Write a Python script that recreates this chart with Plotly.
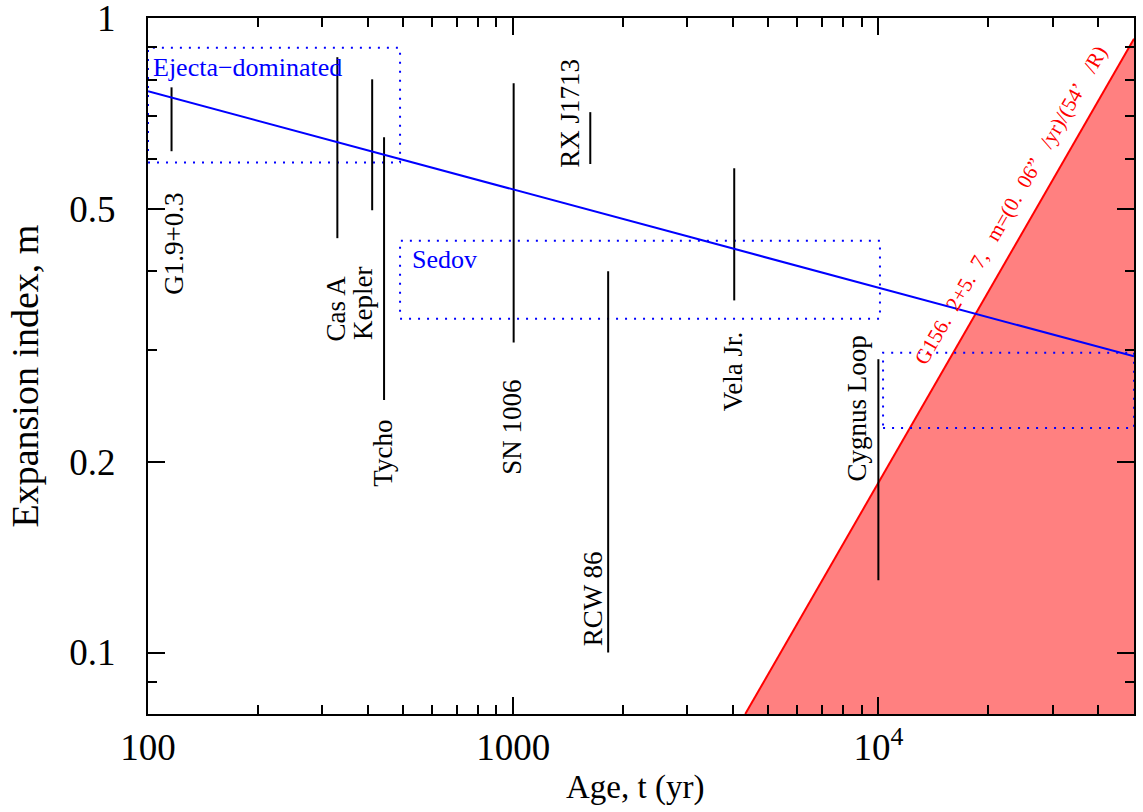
import math
import plotly.graph_objects as go

# ---------------- data ----------------
remnants = ["G1.9+0.3", "Cas A", "Kepler", "Tycho", "SN 1006",
            "RX J1713", "RCW 86", "Vela Jr.", "Cygnus Loop"]
ages_yr = [116, 330, 411, 443, 1003, 1626, 1820, 4030, 10000]
m_low = [0.617, 0.45, 0.498, 0.25, 0.308, 0.589, 0.10, 0.359, 0.13]
m_high = [0.778, 0.868, 0.801, 0.649, 0.79, 0.711, 0.399, 0.58, 0.29]

# general trend m(t) (two end points of the straight line in log-log)
trend_t = [100, 50119]
trend_m = [0.767, 0.293]

# G156.2+5.7 constraint: m = (0.06"/yr) t / (54')
rate_arcsec_per_yr = 0.06
radius_arcmin = 54.0
t_cross = radius_arcmin * 60.0 / rate_arcsec_per_yr   # m = t / t_cross

# phase boxes: name, t_min, t_max, m_min, m_max
phase_names = ["Ejecta\u2212dominated", "Sedov", "Snow\u2212plough"]
phase_t_min = [100, 490, 10300]
phase_t_max = [490, 10100, 50119]
phase_m_min = [0.592, 0.336, 0.226]
phase_m_max = [0.898, 0.446, 0.297]

# axes
x_range_log = [2.0, 4.7]
y_min = 0.08
x_tickvals = [100, 1000, 10000]
x_ticktext = ["100", "1000", "10<sup>4</sup>"]
x_minor = [200, 300, 400, 500, 600, 700, 800, 900,
           2000, 3000, 4000, 5000, 6000, 7000, 8000, 9000,
           20000, 30000, 40000]
y_tickvals = [0.1, 0.2, 0.5, 1]
y_ticktext = ["0.1", "0.2", "0.5", "1"]
y_minor = [0.09, 0.3, 0.4, 0.6, 0.7, 0.8, 0.9]

FONT = "Liberation Serif"
BLUE = "#0000ff"

fig = go.Figure()

# red forbidden region
t_max = 10 ** x_range_log[1]
t_start = y_min * t_cross
fig.add_trace(go.Scatter(
    x=[t_start, t_max, t_max, t_start],
    y=[y_min, t_max / t_cross, y_min, y_min],
    mode="lines", fill="toself", fillcolor="#ff8080",
    line=dict(width=0), hoverinfo="skip", showlegend=False))
fig.add_trace(go.Scatter(
    x=[t_start, t_max], y=[t_start / t_cross, t_max / t_cross],
    mode="lines", line=dict(color="#ff0000", width=2),
    hoverinfo="skip", showlegend=False))

# phase boxes (dotted)
for i, name in enumerate(phase_names):
    x0, x1 = phase_t_min[i], phase_t_max[i]
    y0, y1 = phase_m_min[i], phase_m_max[i]
    fig.add_trace(go.Scatter(
        x=[x0, x1, x1, x0, x0], y=[y0, y0, y1, y1, y0],
        mode="lines", line=dict(color=BLUE, width=2, dash="2px,7px"),
        hoverinfo="skip", showlegend=False, cliponaxis=False))

# remnant ranges
for i, name in enumerate(remnants):
    fig.add_trace(go.Scatter(
        x=[ages_yr[i], ages_yr[i]], y=[m_low[i], m_high[i]],
        mode="lines", line=dict(color="black", width=2),
        name=name, showlegend=False))

# trend line
fig.add_trace(go.Scatter(
    x=trend_t, y=trend_m, mode="lines",
    line=dict(color=BLUE, width=2), showlegend=False, hoverinfo="skip"))

annotations = []

# remnant labels (rotated); placement: (end, yanchor, xshift, yshift)
label_place = {
    "G1.9+0.3": ("low", "top", 3, -40),
    "Cas A": ("low", "top", -1, -35),
    "Kepler": ("low", "top", -9, -55),
    "Tycho": ("low", "top", -1, -18),
    "SN 1006": ("low", "top", -2, -35),
    "RX J1713": ("low", "bottom", -21, -6),
    "RCW 86": ("low", "bottom", -15, 4),
    "Vela Jr.": ("low", "top", -1, -30),
    "Cygnus Loop": ("high", "top", -21, 26),
}
for i, name in enumerate(remnants):
    end, ya, xs, ys = label_place[name]
    yv = m_low[i] if end == "low" else m_high[i]
    annotations.append(dict(
        x=math.log10(ages_yr[i]), y=math.log10(yv), xref="x", yref="y",
        text=name, showarrow=False, textangle=-90,
        xanchor="center", yanchor=ya, xshift=xs, yshift=ys,
        font=dict(family=FONT, size=27, color="black")))

# phase labels
phase_label_place = [
    ("min", "left", 3, "max", "top", -3),
    ("min", "left", 10, "max", "top", -2),
    ("max", "right", -1, "min", "bottom", 0),
]
for i, name in enumerate(phase_names):
    xe, xa, xs, ye, ya, ys = phase_label_place[i]
    xv = phase_t_min[i] if xe == "min" else phase_t_max[i]
    yv = phase_m_min[i] if ye == "min" else phase_m_max[i]
    annotations.append(dict(
        x=math.log10(xv), y=math.log10(yv), xref="x", yref="y",
        text=name, showarrow=False, xanchor=xa, yanchor=ya,
        xshift=xs, yshift=ys,
        font=dict(family=FONT, size=26, color=BLUE)))

# G156.2+5.7 label along the red line
t_lab = 27200
annotations.append(dict(
    x=math.log10(t_lab), y=math.log10(t_lab / t_cross), xref="x", yref="y",
    text="G156.\u20022+5.\u20027,\u2002 m=(0.\u200206\u201d\u2002 /yr)/(54\u2019\u2002 /R)",
    showarrow=False, textangle=-60, xanchor="center", yanchor="middle",
    xshift=-26, yshift=2,
    font=dict(family=FONT, size=21, color="#ff0000")))

# axis titles
annotations.append(dict(
    x=0.494, y=-0.105, xref="paper", yref="paper", text="Age, t (yr)",
    showarrow=False, xanchor="center", yanchor="middle",
    font=dict(family=FONT, size=33, color="black")))
annotations.append(dict(
    x=-0.125, y=0.486, xref="paper", yref="paper", text="Expansion index, m",
    showarrow=False, xanchor="center", yanchor="middle", textangle=-90,
    font=dict(family=FONT, size=38, color="black")))

axis_common = dict(
    showline=True, linecolor="black", linewidth=2, mirror="ticks",
    ticks="inside", ticklen=17, tickwidth=1.5, tickcolor="black",
    showgrid=False, zeroline=False, automargin=False,
    ticklabeloverflow="allow",
    tickfont=dict(family=FONT, size=37, color="black"),
)

fig.update_layout(
    width=1143, height=812,
    margin=dict(l=148, r=9, t=18, b=98),
    paper_bgcolor="white", plot_bgcolor="white",
    showlegend=False,
    font=dict(family=FONT, color="black"),
    xaxis=dict(
        type="log", range=x_range_log,
        tickmode="array", tickvals=x_tickvals, ticktext=x_ticktext,
        minor=dict(tickvals=x_minor, ticks="inside", ticklen=9,
                   tickwidth=1.5, tickcolor="black", showgrid=False),
        ticklabelstandoff=0,
        **axis_common),
    yaxis=dict(
        type="log", range=[math.log10(y_min), 0.0003],
        tickmode="array", tickvals=y_tickvals, ticktext=y_ticktext,
        minor=dict(tickvals=y_minor, ticks="inside", ticklen=9,
                   tickwidth=1.5, tickcolor="black", showgrid=False),
        ticklabelstandoff=23,
        **axis_common),
    annotations=annotations,
)

fig.write_html("out.html",
               config={"displayModeBar": False},
               post_script="document.body.style.margin='0';"
                           "document.body.style.overflow='hidden';")
